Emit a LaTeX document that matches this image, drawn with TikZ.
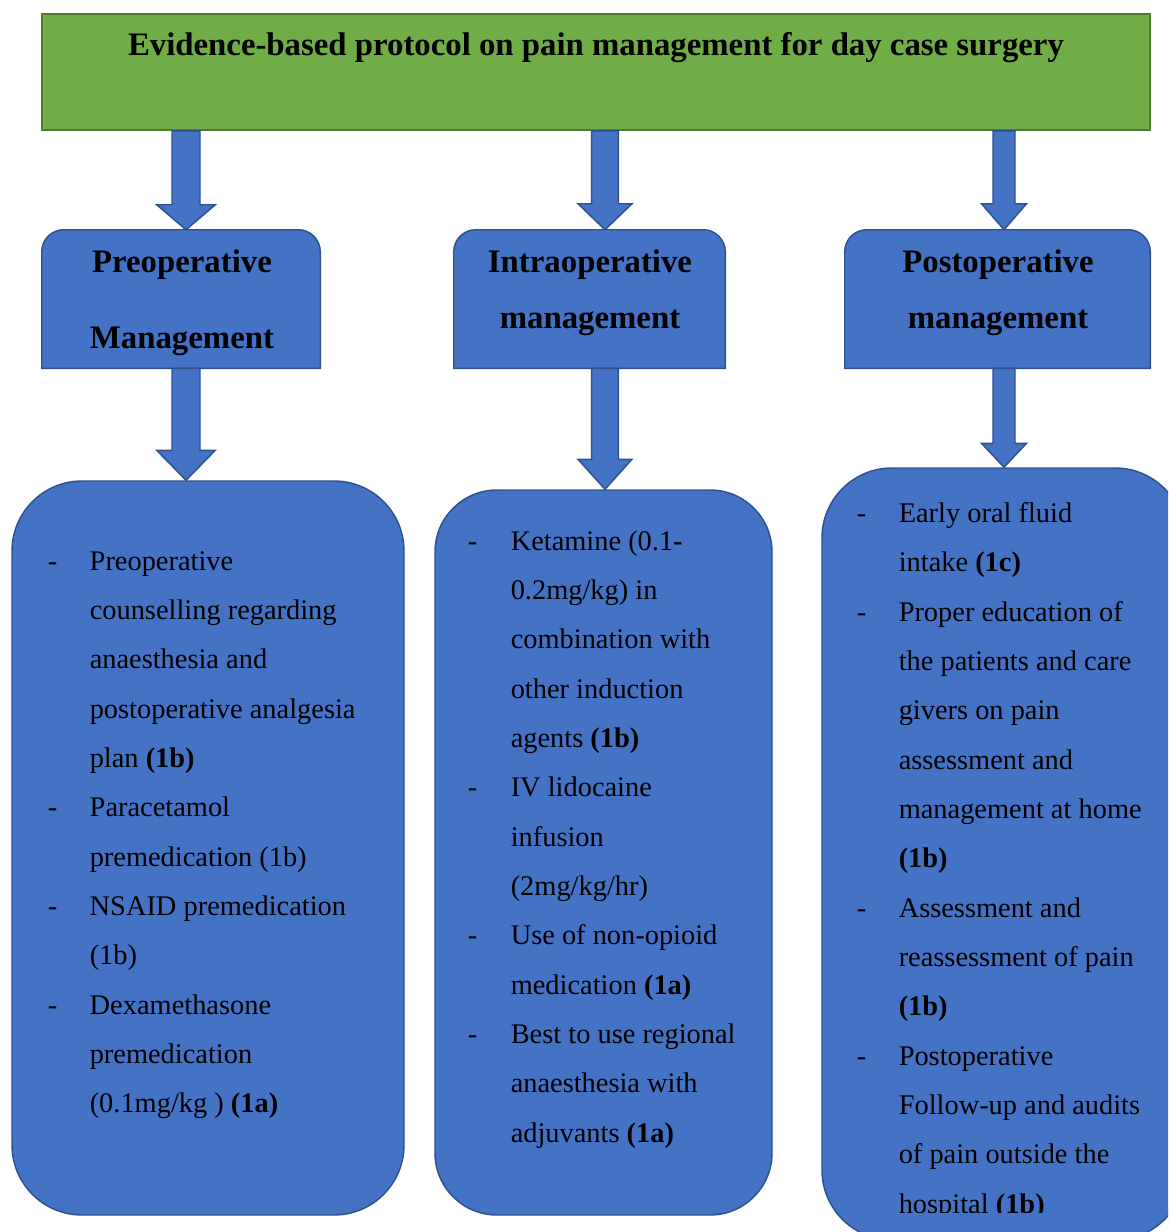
\documentclass[tikz,border=0pt]{standalone}
\usepackage{fontspec}
\setmainfont{Liberation Serif}
\usetikzlibrary{calc}
\definecolor{tgreen}{HTML}{70AD47}
\definecolor{tgreenb}{HTML}{4F7A30}
\definecolor{tblue}{HTML}{4472C4}
\definecolor{tblueb}{HTML}{2F528F}
\tikzset{
  titlebox/.style={rectangle, fill=tgreen, draw=tgreenb, line width=1.3pt, inner sep=0pt},
  titletext/.style={anchor=base, inner sep=0pt, font=\fontsize{24.6}{30}\selectfont\bfseries},
  hdrnode/.style={rectangle, draw=none, inner sep=0pt, minimum height=103.5pt},
  hdrbox/.style={fill=tblue, draw=tblueb, line width=1.1pt},
  hdrtext/.style={anchor=base, inner sep=0pt, font=\fontsize{24.6}{42}\selectfont\bfseries},
  contentbox/.style={rectangle, fill=tblue, draw=tblueb, line width=1.1pt, inner sep=0pt},
  listtext/.style={anchor=base west, inner sep=0pt, font=\fontsize{21.3}{37.0}\selectfont},
  blockarrow/.style={fill=tblue, draw=tblueb, line width=1.1pt, line join=miter},
}
\newcommand\blockarr[5]{\draw[blockarrow] let \p1=#1, \p2=#2 in
  (\x1-#3,\y1) -- (\x1-#3,\y2+#5) -- (\x1-#4,\y2+#5) -- (\x1,\y2) --
  (\x1+#4,\y2+#5) -- (\x1+#3,\y2+#5) -- (\x1+#3,\y1) -- cycle;}
\newcommand\hdrshape[1]{\draw[hdrbox] (#1.south west) -- ([yshift=-16.5pt]#1.north west)
  arc[start angle=180,end angle=90,radius=16.5pt] -- ([xshift=-16.5pt]#1.north east)
  arc[start angle=90,end angle=0,radius=16.5pt] -- (#1.south east) -- cycle;}
\begin{document}
\begin{tikzpicture}[x=0.75pt, y=-0.75pt]
\useasboundingbox (0,0) rectangle (1168,1232);
\clip (0,0) rectangle (1168,1232);

% title
\node[titlebox, minimum width=831pt, minimum height=87pt] (top) at (596,72) {};
\node[titletext] (ttl) at (596,55) {Evidence-based protocol on pain management for day case surgery};

% header boxes
\node[hdrnode, minimum width=208.5pt] (hL) at (181,299) {};
\hdrshape{hL}
\node[hdrnode, minimum width=203.25pt] (hM) at (589.5,299) {};
\hdrshape{hM}
\node[hdrnode, minimum width=228.75pt] (hR) at (997.5,299) {};
\hdrshape{hR}

\node[hdrtext] (hLt) at (182,272) {\begin{tabular}[t]{@{}c@{}}Preoperative\\[15pt]Management\end{tabular}};
\node[hdrtext] (hMt) at (590,272) {\begin{tabular}[t]{@{}c@{}}Intraoperative\\management\end{tabular}};
\node[hdrtext] (hRt) at (998,272) {\begin{tabular}[t]{@{}c@{}}Postoperative\\management\end{tabular}};

% content boxes
\node[contentbox, minimum width=294pt, minimum height=550.5pt, rounded corners=52.5pt] (cL) at (208,848) {};
\node[contentbox, minimum width=252.75pt, minimum height=543.75pt, rounded corners=46.5pt] (cM) at (603.5,852.5) {};
\node[contentbox, minimum width=272.25pt, minimum height=579pt, rounded corners=52.5pt] (cR) at (1003.5,854) {};

\node[listtext] (tL) at (47.5,570) {\begin{tabular}[t]{@{}p{31.5pt}@{}l@{}}
-&Preoperative\\
 &counselling regarding\\
 &anaesthesia and\\
 &postoperative analgesia\\
 &plan \textbf{(1b)}\\
-&Paracetamol\\
 &premedication (1b)\\
-&NSAID premedication\\
 &(1b)\\
-&Dexamethasone\\
 &premedication\\
 &(0.1mg/kg ) \textbf{(1a)}
\end{tabular}};

\node[listtext] (tM) at (467.5,550) {\begin{tabular}[t]{@{}p{32.25pt}@{}l@{}}
-&Ketamine (0.1\textbf{-}\\
 &0.2mg/kg) in\\
 &combination with\\
 &other induction\\
 &agents \textbf{(1b)}\\
-&IV lidocaine\\
 &infusion\\
 &(2mg/kg/hr)\\
-&Use of non-opioid\\
 &medication \textbf{(1a)}\\
-&Best to use regional\\
 &anaesthesia with\\
 &adjuvants \textbf{(1a)}
\end{tabular}};

\begin{scope}
\clip (0,0) rectangle (1168,1212);
\node[listtext] (tR) at (856.5,522.5) {\begin{tabular}[t]{@{}p{31.5pt}@{}l@{}}
-&Early oral fluid\\
 &intake \textbf{(1c)}\\
-&Proper education of\\
 &the patients and care\\
 &givers on pain\\
 &assessment and\\
 &management at home\\
 &\textbf{(1b)}\\
-&Assessment and\\
 &reassessment of pain\\
 &\textbf{(1b)}\\
-&Postoperative\\
 &Follow-up and audits\\
 &of pain outside the\\
 &hospital \textbf{(1b)}
\end{tabular}};
\end{scope}

% arrows
\coordinate (xL) at (186,0);
\coordinate (xM) at (605,0);
\coordinate (xR) at (1004,0);
\blockarr{(top.south -| xL)}{(hL.north -| xL)}{10.5pt}{22pt}{18.75pt}
\blockarr{(top.south -| xM)}{(hM.north -| xM)}{10.1pt}{20.25pt}{19.5pt}
\blockarr{(top.south -| xR)}{(hR.north -| xR)}{8.25pt}{16.9pt}{19.5pt}
\blockarr{(hL.south -| xL)}{(cL.north -| xL)}{10.5pt}{22pt}{22.5pt}
\blockarr{(hM.south -| xM)}{(cM.north -| xM)}{10.1pt}{20.25pt}{22.5pt}
\blockarr{(hR.south -| xR)}{(cR.north -| xR)}{8.25pt}{16.9pt}{18pt}
\end{tikzpicture}
\end{document}
